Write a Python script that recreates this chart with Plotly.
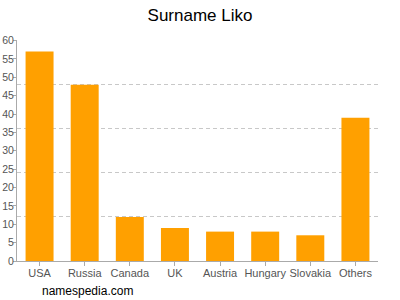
import plotly.graph_objects as go

countries = ["USA", "Russia", "Canada", "UK", "Austria", "Hungary", "Slovakia", "Others"]
counts = [57, 48, 12, 9, 8, 8, 7, 39]
y_ticks = list(range(0, 61, 5))
grid_ticks = list(range(12, 61, 12))

fig = go.Figure()
fig.add_trace(go.Bar(x=countries, y=counts, marker=dict(color="#FFA000", line=dict(width=0)),
                     hoverinfo="x+y"))
# invisible trace on secondary axis for dashed grid
fig.add_trace(go.Scatter(x=countries, y=[None]*len(countries), yaxis="y2", showlegend=False,
                         hoverinfo="skip"))

fig.update_layout(
    width=400, height=300,
    margin=dict(l=17, r=22, t=40, b=39, autoexpand=False),
    paper_bgcolor="white", plot_bgcolor="white",
    showlegend=False,
    bargap=0.38,
    title=dict(text="Surname Liko", x=0.5, xanchor="center", y=0.95, yanchor="middle",
               font=dict(family="Liberation Sans, Arial", size=17, color="#000")),
    font=dict(family="Liberation Sans, Arial", size=11, color="#555"),
    xaxis=dict(showline=True, linecolor="#aaa", linewidth=1, ticks="outside", ticklen=4,
               tickcolor="#aaa", tickfont=dict(size=11, color="#555"), showgrid=False,
               tickangle=0, automargin=False, ticklabelstandoff=-2),
    yaxis=dict(range=[0, 60.15], tickvals=y_ticks, showline=True, linecolor="#aaa", linewidth=1,
               ticks="outside", ticklen=3, tickcolor="#aaa", showgrid=False, zeroline=False,
               tickfont=dict(size=10.5, color="#555"), automargin=False, ticklabelstandoff=-3),
    yaxis2=dict(range=[0, 60.15], overlaying="y", tickvals=grid_ticks, showticklabels=False,
                showgrid=True, gridcolor="#c8c8c8", griddash="4px,3px", gridwidth=1, zeroline=False,
                showline=False, ticks="", automargin=False),
    annotations=[dict(text="namespedia.com", xref="paper", yref="paper", x=(40-17)/361, y=-30/221,
                      xanchor="left", yanchor="middle", showarrow=False,
                      font=dict(family="Liberation Sans, Arial", size=12, color="#000"))],
)
fig.write_html("out.html")
